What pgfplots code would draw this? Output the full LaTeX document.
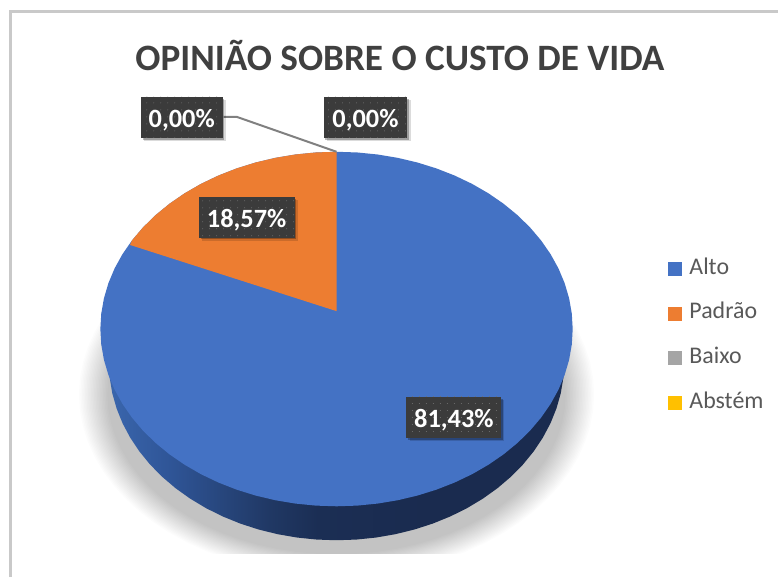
\documentclass[border=0pt]{standalone}
\usepackage{fontspec}
\setmainfont{Carlito}
\usepackage{pgfplots}
\usepackage{pgfplotstable}
\pgfplotsset{compat=1.18}
\usetikzlibrary{shadows,patterns.meta}
\definecolor{alto}{HTML}{4472C4}
\definecolor{padrao}{HTML}{ED7D31}
\definecolor{baixo}{HTML}{A5A5A5}
\definecolor{abstem}{HTML}{FFC000}
\definecolor{tit}{HTML}{404040}
\definecolor{leg}{HTML}{595959}
\definecolor{boxc}{HTML}{3B3B3B}
\definecolor{wa}{HTML}{3A66AD}
\definecolor{wb}{HTML}{2F5597}
\definecolor{wc}{HTML}{203864}
\definecolor{wd}{HTML}{1B2E54}
\definecolor{we}{HTML}{1A2B4F}
\pgfdeclarehorizontalshading{wall}{100bp}{
 color(0bp)=(wa);color(25bp)=(wa);color(31.7bp)=(wb);color(42.7bp)=(wc);color(48bp)=(wd);color(60bp)=(we);color(100bp)=(we)}
% rim of the pie, one row per 5 degrees
\pgfplotstableread{
c s
1 0
0.9962 0.0872
0.9848 0.1736
0.9659 0.2588
0.9397 0.3420
0.9063 0.4226
0.8660 0.5
0.8192 0.5736
0.7660 0.6428
0.7071 0.7071
0.6428 0.7660
0.5736 0.8192
0.5 0.8660
0.4226 0.9063
0.3420 0.9397
0.2588 0.9659
0.1736 0.9848
0.0872 0.9962
0 1
-0.0872 0.9962
-0.1736 0.9848
-0.2588 0.9659
-0.3420 0.9397
-0.4226 0.9063
-0.5 0.8660
-0.5736 0.8192
-0.6428 0.7660
-0.7071 0.7071
-0.7660 0.6428
-0.8192 0.5736
-0.8660 0.5
-0.9063 0.4226
-0.9397 0.3420
-0.9659 0.2588
-0.9848 0.1736
-0.9962 0.0872
-1 0
-0.9962 -0.0872
-0.9848 -0.1736
-0.9659 -0.2588
-0.9397 -0.3420
-0.9063 -0.4226
-0.8660 -0.5
-0.8192 -0.5736
-0.7660 -0.6428
-0.7071 -0.7071
-0.6428 -0.7660
-0.5736 -0.8192
-0.5 -0.8660
-0.4226 -0.9063
-0.3420 -0.9397
-0.2588 -0.9659
-0.1736 -0.9848
-0.0872 -0.9962
0 -1
0.0872 -0.9962
0.1736 -0.9848
0.2588 -0.9659
0.3420 -0.9397
0.4226 -0.9063
0.5 -0.8660
0.5736 -0.8192
0.6428 -0.7660
0.7071 -0.7071
0.7660 -0.6428
0.8192 -0.5736
0.8660 -0.5
0.9063 -0.4226
0.9397 -0.3420
0.9659 -0.2588
0.9848 -0.1736
0.9962 -0.0872
}\rim
% Padrao slice, 18.57 percent: centre, then rim
\pgfplotstableread{
c s
0 0.101
0 1
-0.0872 0.9962
-0.1736 0.9848
-0.2588 0.9659
-0.3420 0.9397
-0.4226 0.9063
-0.5 0.8660
-0.5736 0.8192
-0.6428 0.7660
-0.7071 0.7071
-0.7660 0.6428
-0.8192 0.5736
-0.8660 0.5
-0.8746 0.4745
}\padraoslice
\tikzset{lab/.style={fill=boxc,text=white,inner sep=0pt,minimum height=41bp,
  font=\fontsize{26.5}{30}\selectfont\bfseries,
  drop shadow={shadow xshift=3.2bp,shadow yshift=-3.2bp,opacity=.14,fill=black},
  drop shadow={shadow xshift=1.8bp,shadow yshift=-1.8bp,opacity=.28,fill=black},
  postaction={pattern={Dots[radius=0.5bp,distance=7bp]},pattern color=white!28!boxc}}}
\newcommand{\lab}[1]{\raisebox{-2.5bp}[\height][\depth]{#1}}
\begin{document}
\begin{tikzpicture}
\begin{axis}[
  scale only axis,width=779bp,height=578bp,
  xmin=0,xmax=779,ymin=0,ymax=578,y dir=reverse,
  hide axis,clip=false,
  legend style={at={(axis cs:669,258.8)},anchor=north west,draw=none,fill=none,
    inner sep=0pt,outer sep=0pt,row sep=23.6bp,
    nodes={inner sep=0pt,text height=16bp,text depth=5bp,text=leg,
      font=\fontsize{24}{26}\selectfont}},
  legend cell align=left,
]
\addplot[forget plot,fill=white,draw=none] coordinates {(0,0)(779,0)(779,578)(0,578)} --cycle;
\addplot[forget plot,draw=black!21,line width=2.2bp] coordinates {(10.5,578)(10.5,11.5)(779,11.5)};
% shadow
\pgfplotsinvokeforeach{0,...,19}{
 \addplot[forget plot,fill=black,fill opacity=0.011,draw=none]
   table[x expr=337+(258-1.5*#1)*\thisrow{c},y expr=395-(182-1.15*#1)*\thisrow{s}] {\rim} --cycle;
}
\addplot[forget plot,fill=white,draw=none] coordinates {(30,555)(770,555)(770,578)(30,578)} --cycle;
% side wall
\addplot[forget plot,shading=wall,draw=none]
   table[x expr=337+228*\thisrow{c},y expr=363-178*\thisrow{s}] {\rim} --cycle;
% Alto 81.43 percent: the whole disc, Padrao on top
\addplot[forget plot,fill=alto,draw=none]
   table[x expr=337+236.5*\thisrow{c},y expr=329.5-177.5*\thisrow{s}] {\rim} --cycle;
\addplot[forget plot,fill=padrao,draw=none]
   table[x expr=337+236.5*\thisrow{c},y expr=329.5-177.5*\thisrow{s}] {\padraoslice} --cycle;
% leader
\addplot[forget plot,draw=black!50,line width=2bp] coordinates {(224,117)(237,117)(337,152)};
\addlegendimage{legend image code/.code={\fill[alto] (0bp,-6.5bp) rectangle (13bp,6.5bp);}}
\addlegendentry{\hspace*{8bp}Alto}
\addlegendimage{legend image code/.code={\fill[padrao] (0bp,-6.5bp) rectangle (13bp,6.5bp);}}
\addlegendentry{\hspace*{8bp}Padrão}
\addlegendimage{legend image code/.code={\fill[baixo] (0bp,-6.5bp) rectangle (13bp,6.5bp);}}
\addlegendentry{\hspace*{8bp}Baixo}
\addlegendimage{legend image code/.code={\fill[abstem] (0bp,-6.5bp) rectangle (13bp,6.5bp);}}
\addlegendentry{\hspace*{8bp}Abstém}
\node[text=tit,font=\fontsize{37.4}{42}\selectfont\bfseries,inner sep=0pt] at (axis cs:400.5,55.5) {OPINIÃO SOBRE O CUSTO DE VIDA};
\node[lab,minimum width=82bp] at (axis cs:182,117.5) {\lab{0,00\%}};
\node[lab,minimum width=84bp] at (axis cs:366,117.5) {\lab{0,00\%}};
\node[lab,minimum width=96bp] at (axis cs:247,217.5) {\lab{18,57\%}};
\node[lab,minimum width=95bp] at (axis cs:454.5,418) {\lab{81,43\%}};
\end{axis}
\end{tikzpicture}
\end{document}
